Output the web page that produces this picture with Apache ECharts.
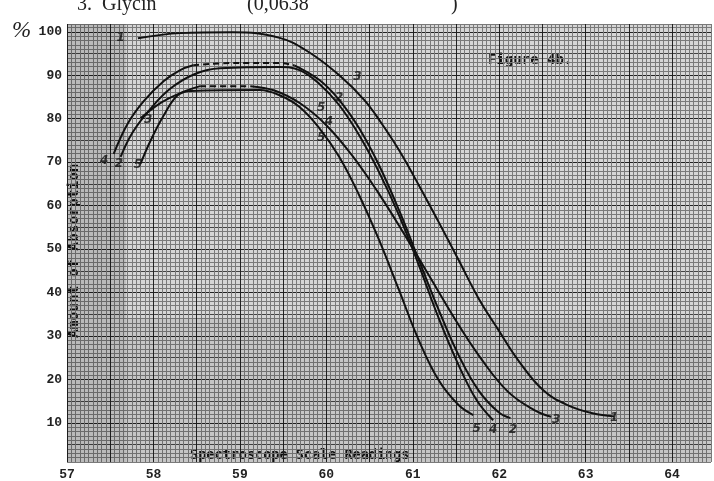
<!DOCTYPE html>
<html>
<head>
<meta charset="utf-8">
<script src="https://cdn.jsdelivr.net/npm/echarts@6/dist/echarts.min.js"></script>
<style>
  html, body { margin: 0; padding: 0; background: #fff; }
  #main { width: 714px; height: 481px; }
</style>
</head>
<body>
<div id="main"></div>
<script>
// curves: [scale reading, % absorption]
var curve1 = [[57.82,98.5],[58.31,99.7],[58.92,99.9],[59.46,98.6],[59.8,95.3],[60.15,90.0],[60.44,84.3],[60.63,79.2],[60.84,72.8],[61.07,64.7],[61.3,56.2],[61.53,47.5],[61.76,38.7],[61.99,31.4],[62.22,24.4],[62.51,17.5],[62.79,14.1],[63.08,12.2],[63.33,11.5]];
var curve4 = [[57.54,71.9],[57.7,78.8],[57.89,84.1],[58.12,88.7],[58.31,91.2],[58.46,92.3]];
var curve4Dash = [[58.46,92.3],[58.89,92.8],[59.46,92.8],[59.63,92.3]];
var curve4Tail = [[59.63,92.3],[59.92,88.9],[60.15,84.3],[60.38,77.8],[60.61,69.3],[60.84,59.0],[61.07,47.5],[61.3,36.0],[61.53,25.6],[61.76,17.5],[61.99,12.5],[62.13,11.1]];
var curve2 = [[57.62,71.2],[57.76,76.9],[57.97,82.4],[58.2,87.0],[58.48,90.3],[58.77,91.6],[59.46,91.9],[59.69,91.2],[59.92,88.0],[60.15,83.1],[60.38,76.2],[60.61,67.7],[60.84,57.8],[61.07,46.3],[61.3,34.1],[61.53,23.3],[61.74,15.2],[61.93,10.6]];
var curve3 = [[57.85,80.1],[58.08,83.6],[58.31,85.9],[58.54,87.5]];
var curve3Dash = [[58.54,87.5],[59.12,87.5]];
var curve3Tail = [[59.12,87.5],[59.4,86.5],[59.7,83.5],[60.0,78.5],[60.3,71.5],[60.6,63.0],[60.9,53.5],[61.2,43.5],[61.5,33.5],[61.8,24.5],[62.1,17.2],[62.4,13.0],[62.6,11.4]];
var curve5 = [[57.85,69.6],[57.97,75.1],[58.12,80.8],[58.28,85.4],[58.43,86.4],[59.23,86.6],[59.46,85.4],[59.69,82.7],[59.92,77.8],[60.15,71.2],[60.38,62.4],[60.61,52.1],[60.84,40.6],[61.07,29.0],[61.3,19.8],[61.53,14.1],[61.7,11.8]];

var curveNames = ['1','4','2','5','3','3','2','5','4','5','5','4','2','3','1'];
var curvePos = [[57.62,98.5],[57.43,70.4],[57.6,69.7],[57.82,69.3],[57.94,79.7],[60.36,89.6],[60.15,84.7],[59.94,82.6],[60.03,79.2],[59.94,75.7],[61.74,8.7],[61.93,8.5],[62.16,8.3],[62.66,10.6],[63.33,11.1]];

var xTicks = [57, 58, 59, 60, 61, 62, 63, 64];
var yTicks = [10, 20, 30, 40, 50, 60, 70, 80, 90, 100];

var myChart = echarts.init(document.getElementById('main'));

var minor = '#7a7a7a';
var xLineColors = ['#222', minor, minor, minor, minor, minor, minor, minor, minor, minor];
var yLineColors = [minor, minor, minor, minor, '#444', minor, minor, minor, minor, '#222'];

function curve(data, dashed) {
  return {
    type: 'line',
    data: data,
    smooth: 0.4,
    showSymbol: false,
    silent: true,
    lineStyle: { color: '#111', width: 2, type: dashed ? [6, 4] : 'solid' }
  };
}

var labelData = curveNames.map(function (n, i) {
  return { name: n, value: curvePos[i] };
});

option = {
  backgroundColor: '#ffffff',
  animation: false,
  grid: {
    left: 67, right: 0, top: 24, bottom: 19,
    show: true,
    backgroundColor: '#d6d6d6',
    borderWidth: 0
  },
  xAxis: {
    type: 'value',
    min: 57,
    max: 64.45,
    interval: 0.05,
    axisLine: { show: false },
    axisTick: { show: false },
    axisLabel: {
      margin: 6,
      color: '#222',
      fontFamily: 'Liberation Mono',
      fontWeight: 'bold',
      fontSize: 13,
      formatter: function (v) {
        var r = Math.round(v);
        return Math.abs(v - r) < 1e-6 && xTicks.indexOf(r) >= 0 ? String(r) : '';
      }
    },
    splitLine: { show: true, lineStyle: { color: xLineColors, width: 1 } }
  },
  yAxis: {
    type: 'value',
    min: 1,
    max: 101.8,
    interval: 1,
    axisLine: { show: false },
    axisTick: { show: false },
    axisLabel: {
      margin: 5,
      color: '#222',
      fontFamily: 'Liberation Mono',
      fontWeight: 'bold',
      fontSize: 13,
      formatter: function (v) {
        var r = Math.round(v);
        return yTicks.indexOf(r) >= 0 ? String(r) : '';
      }
    },
    splitLine: { show: true, lineStyle: { color: yLineColors, width: 1 } }
  },
  series: [
    {
      type: 'line',
      data: [],
      silent: true,
      markArea: {
        silent: true,
        data: [
          [{ xAxis: 57, yAxis: 1, itemStyle: { color: 'rgba(0,0,0,0.13)' } }, { xAxis: 57.68, yAxis: 101.8 }],
          [{ xAxis: 57.68, yAxis: 1, itemStyle: { color: 'rgba(0,0,0,0.07)' } }, { xAxis: 64.45, yAxis: 34 }]
        ]
      }
    },
    curve(curve1),
    curve(curve4), curve(curve4Dash, true), curve(curve4Tail),
    curve(curve2),
    curve(curve3), curve(curve3Dash, true), curve(curve3Tail),
    curve(curve5),
    {
      type: 'scatter',
      data: labelData,
      symbolSize: 0,
      silent: true,
      label: {
        show: true,
        position: 'inside',
        formatter: '{b}',
        color: '#111',
        fontFamily: 'DejaVu Sans',
        fontWeight: 'bold',
        fontStyle: 'italic',
        fontSize: 12
      }
    }
  ],
  graphic: [
    { type: 'text', left: 77, top: -5, style: { text: '3.  Glycin', font: '20px "Liberation Serif"', fill: '#222' } },
    { type: 'text', left: 247, top: -5, style: { text: '(0,0638', font: '20px "Liberation Serif"', fill: '#222' } },
    { type: 'text', left: 451, top: -5, style: { text: ')', font: '20px "Liberation Serif"', fill: '#222' } },
    { type: 'text', left: 12, top: 19, style: { text: '%', font: 'italic 23px "Liberation Serif"', fill: '#222' } },
    { type: 'text', left: 488, top: 53, style: { text: 'Figure 4b.', font: 'bold 14px "DejaVu Sans Mono"', fill: '#111' } },
    { type: 'text', left: 190, top: 448, style: { text: 'Spectroscope Scale Readings', font: 'bold 13.5px "DejaVu Sans Mono"', fill: '#111' } },
    {
      type: 'text', x: 67, y: 338, rotation: Math.PI / 2,
      style: { text: 'Amount of Absorption', font: 'bold 14.5px "DejaVu Sans Mono"', fill: '#111' }
    }
  ]
};
myChart.setOption(option);
</script>
</body>
</html>
